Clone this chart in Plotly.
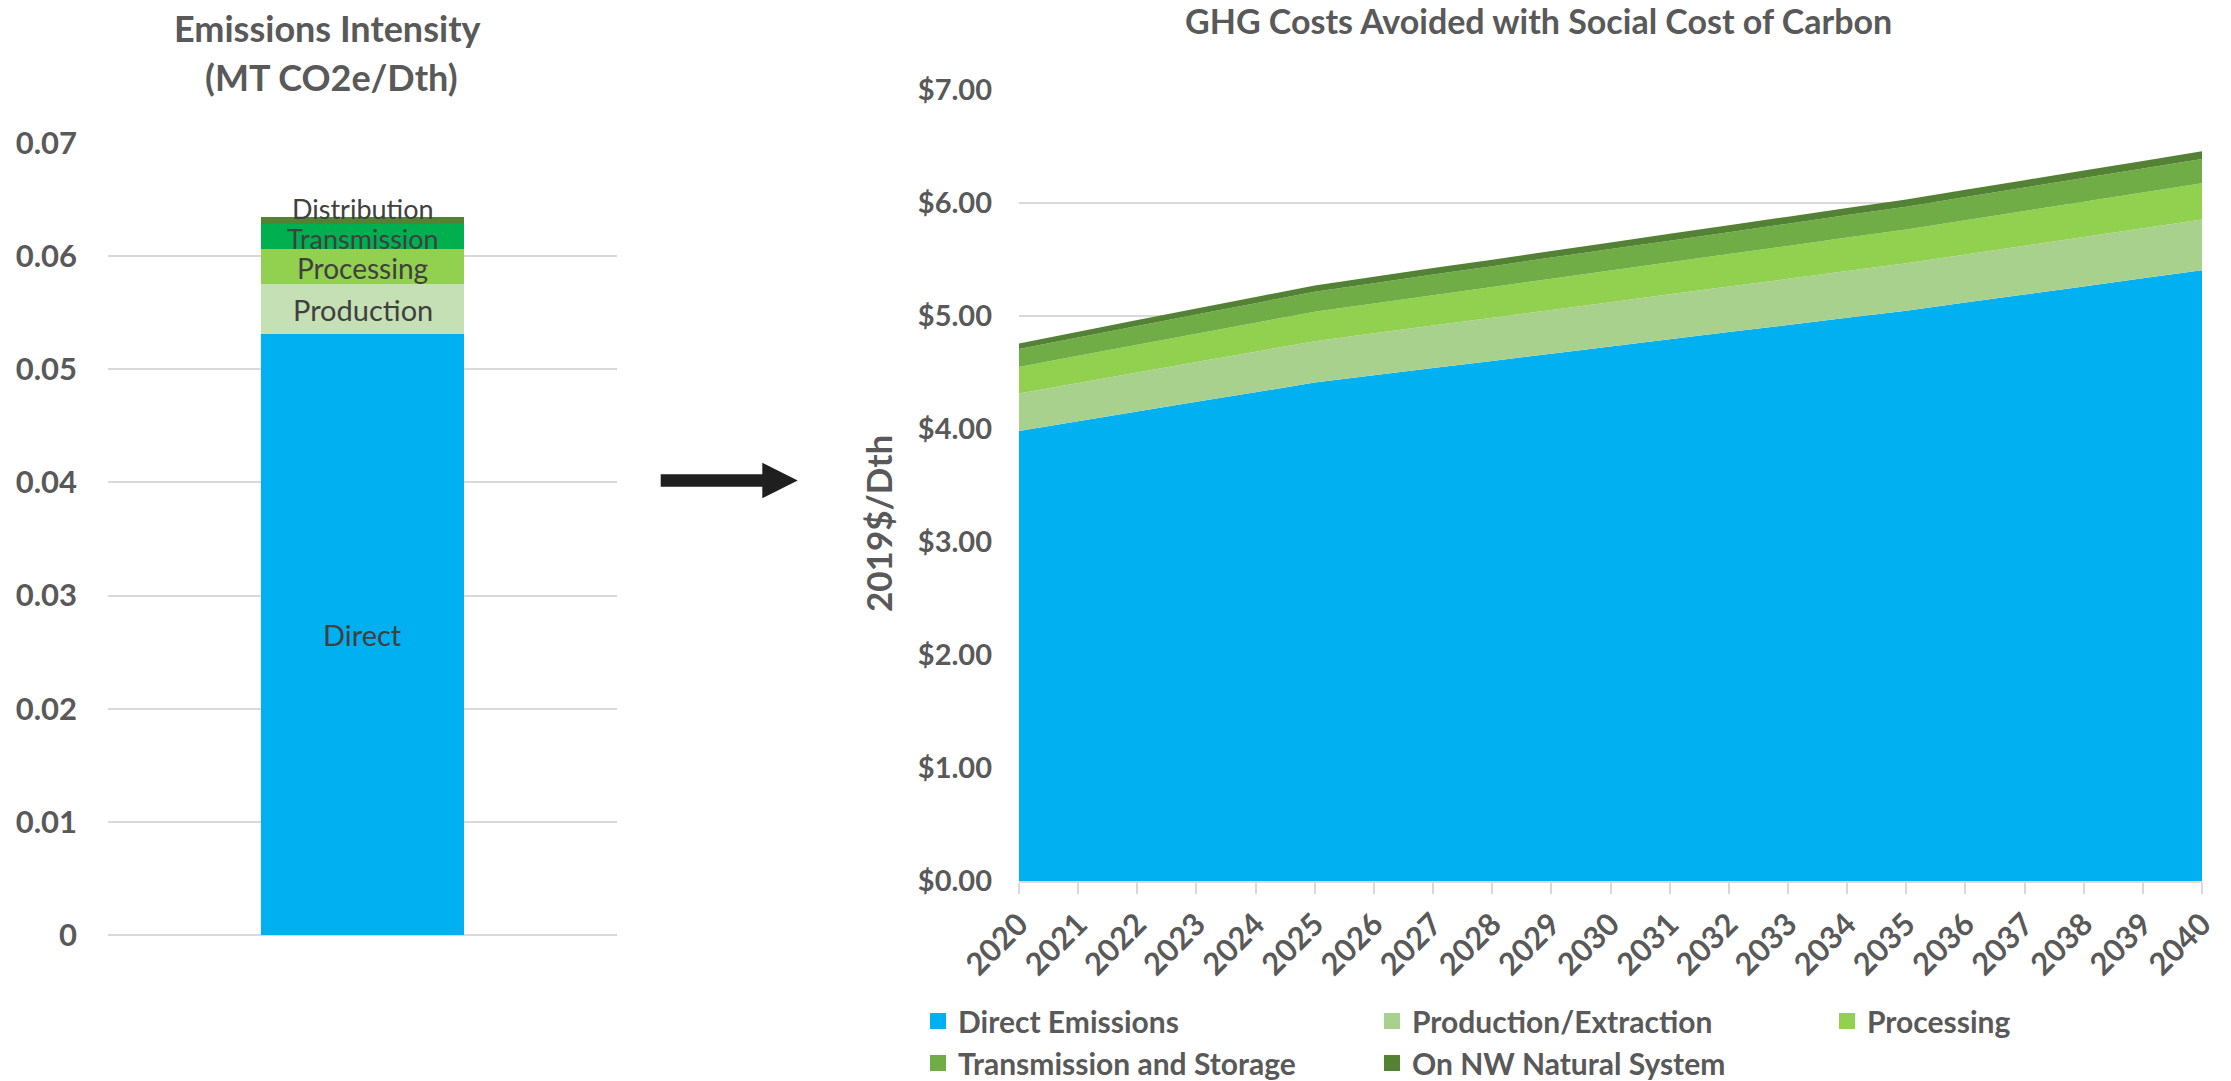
import plotly.graph_objects as go

W, H = 2231, 1081
FONT = "Lato, Carlito, sans-serif"
GRAY = "#595959"
GRID = "#D9D9D9"

# ---- Left chart: emissions intensity (MT CO2e/Dth) ----
bar_segments = ["Direct", "Production", "Processing", "Transmission", "Distribution"]
bar_values = [0.0531, 0.00445, 0.0031, 0.00215, 0.0007]
bar_colors = ["#00B0F0", "#C5E0B4", "#92D050", "#00B050", "#548235"]
bar_label_shift = [0, 0, -2, -2, 12]
bar_label_size = [29, 29, 28, 27, 27]

# ---- Right chart: GHG costs avoided (2019$/Dth) ----
years = list(range(2020, 2041))
direct_emissions = [3.980, 4.066, 4.152, 4.238, 4.323, 4.409, 4.473, 4.537, 4.600, 4.664, 4.727,
                    4.791, 4.855, 4.918, 4.982, 5.045, 5.117, 5.188, 5.259, 5.331, 5.402]
production_extraction = [0.331, 0.338, 0.345, 0.352, 0.359, 0.366, 0.371, 0.377, 0.382, 0.387, 0.393,
                         0.398, 0.403, 0.408, 0.414, 0.419, 0.425, 0.431, 0.437, 0.443, 0.449]
processing = [0.235, 0.241, 0.246, 0.251, 0.256, 0.261, 0.265, 0.268, 0.272, 0.276, 0.280,
              0.283, 0.287, 0.291, 0.295, 0.298, 0.303, 0.307, 0.311, 0.315, 0.320]
transmission_storage = [0.159, 0.163, 0.166, 0.170, 0.173, 0.177, 0.179, 0.182, 0.184, 0.187, 0.189,
                        0.192, 0.194, 0.197, 0.199, 0.202, 0.205, 0.208, 0.211, 0.213, 0.216]
on_nw_natural = [0.050, 0.051, 0.052, 0.053, 0.054, 0.055, 0.056, 0.057, 0.058, 0.059, 0.059,
                 0.060, 0.061, 0.062, 0.063, 0.063, 0.064, 0.065, 0.066, 0.067, 0.068]
area_names = ["Direct Emissions", "Production/Extraction", "Processing",
              "Transmission and Storage", "On NW Natural System"]
area_values = [direct_emissions, production_extraction, processing, transmission_storage, on_nw_natural]
area_colors = ["#00B0F0", "#A9D18E", "#92D050", "#70AD47", "#548235"]
legend_column = ["legend", "legend2", "legend3", "legend", "legend2"]


def px(x):
    return x / W


def py(y):
    return 1 - y / H


fig = go.Figure()

# stacked bar
for name, val, col in zip(bar_segments, bar_values, bar_colors):
    fig.add_trace(go.Bar(x=[""], y=[val], name=name, marker=dict(color=col, line=dict(width=0)),
                         width=0.4, showlegend=False, xaxis="x", yaxis="y", hoverinfo="y+name"))

annotations = []
cum = 0.0
for name, val, shift, size in zip(bar_segments, bar_values, bar_label_shift, bar_label_size):
    center = cum + val / 2
    cum += val
    annotations.append(dict(x="", y=center, xref="x", yref="y", text=name, showarrow=False,
                            xanchor="center", yanchor="middle", yshift=shift,
                            font=dict(family=FONT, size=size, color="#404040")))

# stacked areas
for name, vals, col in zip(area_names, area_values, area_colors):
    fig.add_trace(go.Scatter(x=years, y=vals, name=name, stackgroup="one", mode="none",
                             fillcolor=col, showlegend=False, xaxis="x2", yaxis="y2"))

# legend entries (three columns)
for name, col, lg in zip(area_names, area_colors, legend_column):
    fig.add_trace(go.Scatter(x=[None], y=[None], mode="markers", name=name,
                             marker=dict(symbol="square", size=18, color=col),
                             legend=lg, xaxis="x2", yaxis="y2"))

annotations += [
    dict(x=px(327), y=py(28), xref="paper", yref="paper", text="<b>Emissions Intensity</b>",
         xanchor="center", yanchor="middle", showarrow=False,
         font=dict(family=FONT, size=36, color=GRAY)),
    dict(x=px(331), y=py(77), xref="paper", yref="paper", text="<b>(MT CO2e/Dth)</b>",
         xanchor="center", yanchor="middle", showarrow=False,
         font=dict(family=FONT, size=36, color=GRAY)),
    dict(x=px(1538), y=py(21), xref="paper", yref="paper",
         text="<b>GHG Costs Avoided with Social Cost of Carbon</b>",
         xanchor="center", yanchor="middle", showarrow=False,
         font=dict(family=FONT, size=34, color=GRAY)),
    dict(x=px(878), y=py(524), xref="paper", yref="paper", text="<b>2019$/Dth</b>", textangle=-90,
         xanchor="center", yanchor="middle", showarrow=False,
         font=dict(family=FONT, size=35, color=GRAY)),
]

arrow = [(660.7, 474.3), (762.3, 474.3), (762.3, 462.7), (797.7, 480.5),
         (762.3, 498.3), (762.3, 486.7), (660.7, 486.7)]
path = "M " + " L ".join(f"{px(a):.5f},{py(b):.5f}" for a, b in arrow) + " Z"

legend_font = dict(family=FONT, size=30, color=GRAY, weight="bold")
legend_common = dict(orientation="v", xanchor="left", yanchor="top", bgcolor="rgba(0,0,0,0)",
                     traceorder="normal", font=legend_font, itemclick=False, borderwidth=0)

fig.update_layout(
    width=W, height=H,
    margin=dict(l=0, r=0, t=0, b=0, autoexpand=False),
    paper_bgcolor="white", plot_bgcolor="white",
    barmode="stack",
    font=dict(family=FONT, color=GRAY),
    xaxis=dict(domain=[px(108), px(617)], anchor="y", type="category", range=[-0.5, 0.5],
               showticklabels=False, showgrid=False, zeroline=False, showline=False, automargin=False),
    yaxis=dict(domain=[py(935), py(143)], anchor="x", range=[0, 0.07], dtick=0.01, tick0=0,
               showgrid=True, gridcolor=GRID, gridwidth=1.5, zeroline=True, zerolinecolor=GRID,
               zerolinewidth=1.5, showline=False, ticks="", ticklabelstandoff=30,
               tickfont=dict(family=FONT, size=31, color=GRAY, weight="bold"), automargin=False),
    xaxis2=dict(domain=[px(1019), px(2202)], anchor="y2", range=[2020, 2040],
                tickmode="array", tickvals=years, ticktext=[str(y) for y in years], tickangle=-45,
                ticks="outside", ticklen=11, tickcolor=GRID, tickwidth=1.5,
                showline=True, linecolor=GRID, linewidth=1.5, showgrid=False, zeroline=False,
                tickfont=dict(family=FONT, size=31, color=GRAY, weight="bold"), automargin=False),
    yaxis2=dict(domain=[py(881), py(89.6)], anchor="x2", range=[0, 7], dtick=1, tick0=0,
                tickformat="$.2f", showgrid=True, gridcolor=GRID, gridwidth=1.5, zeroline=False,
                showline=False, ticks="", ticklabelstandoff=26,
                tickfont=dict(family=FONT, size=29, color=GRAY, weight="bold"), automargin=False),
    legend=dict(x=px(918), y=py(995), **legend_common),
    legend2=dict(x=px(1372), y=py(995), **legend_common),
    legend3=dict(x=px(1827), y=py(995), **legend_common),
    annotations=annotations,
    shapes=[dict(type="path", xref="paper", yref="paper", path=path,
                 fillcolor="#1F1F1F", line=dict(width=0))],
)

fig.write_html("out.html")
